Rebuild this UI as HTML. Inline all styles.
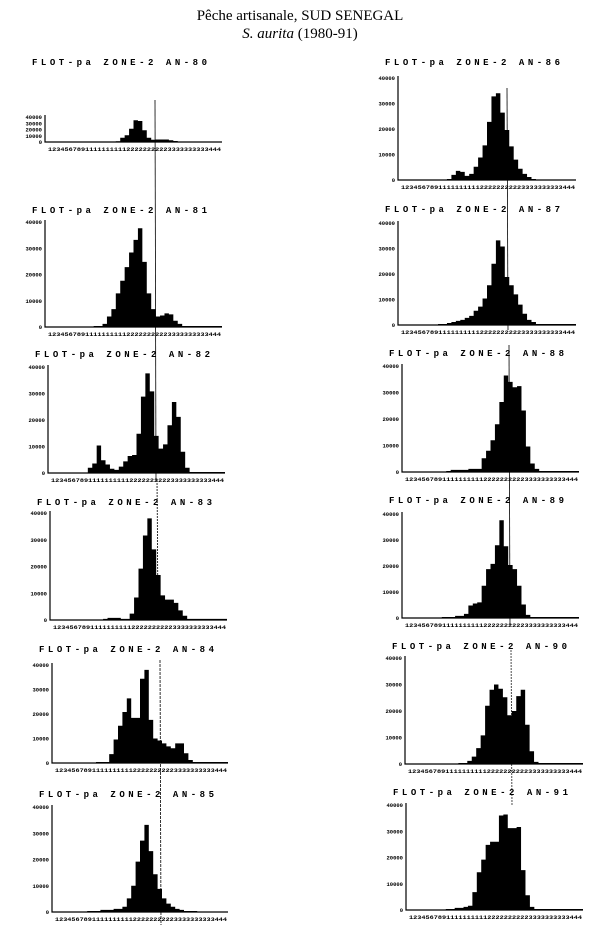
<!DOCTYPE html>
<html><head><meta charset="utf-8">
<style>
html,body{margin:0;padding:0;background:#fff;}
svg{display:block;}
.t{font-family:"Liberation Serif",serif;font-size:15px;fill:#000;}
.pt{font-family:"Liberation Mono",monospace;font-size:9px;font-weight:bold;fill:#000;}
.tk{font-family:"Liberation Mono",monospace;font-size:5.5px;font-weight:bold;fill:#000;}
</style></head>
<body>
<svg id="fig" width="600" height="940" viewBox="0 0 600 940">
<text class="t" x="300" y="20" text-anchor="middle">Pêche artisanale, SUD SENEGAL</text>
<text class="t" x="300" y="38" text-anchor="middle"><tspan font-style="italic">S. aurita</tspan> (1980-91)</text>
<line x1="155" y1="100" x2="156" y2="480" stroke="#000" stroke-width="0.8"/>
<line x1="157" y1="480" x2="158" y2="610" stroke="#000" stroke-width="0.8" stroke-dasharray="2,1"/>
<line x1="160" y1="660" x2="161" y2="925" stroke="#000" stroke-width="0.8" stroke-dasharray="3,1"/>
<line x1="507" y1="88" x2="508" y2="330" stroke="#000" stroke-width="0.8"/>
<line x1="509" y1="345" x2="510" y2="625" stroke="#000" stroke-width="0.8"/>
<line x1="511" y1="650" x2="512" y2="805" stroke="#000" stroke-width="0.7" stroke-dasharray="2,1"/>
</svg>
<script>
const years = ["80","81","82","83","84","85","86","87","88","89","90","91"];
const an80 = [0,0,0,0,0,0,0,0,0,0,2,2,2,2,2,2,3,17,27,53,87,84,47,17,9,10,10,10,7,4,1,1,0,0,0,0,0,0,0,0];
const an81 = [0,0,0,0,0,0,0,0,0,0,0,1,1,3,10,17,32,44,57,71,83,94,62,32,17,10,11,13,12,6,3,1,1,1,1,1,1,1,1,1];
const an82 = [0,0,0,0,0,0,0,0,0,5,9,26,12,8,4,3,6,11,16,17,37,72,94,77,35,23,27,45,67,53,20,5,1,1,1,1,1,1,1,1];
const an83 = [0,0,0,0,0,0,0,0,0,0,0,0,1,2,2,2,1,1,6,21,48,79,95,66,42,23,19,19,16,9,4,1,1,1,1,1,1,1,1,1];
const an84 = [0,0,0,0,0,0,0,0,0,0,1,1,1,9,24,38,52,66,46,46,86,95,44,25,23,20,17,15,20,20,10,3,1,1,1,1,1,1,1,1];
const an85 = [0,0,0,0,0,0,0,0,1,1,1,2,2,2,3,3,5,13,25,48,68,83,58,36,22,13,8,5,3,2,1,1,1,0,0,0,0,0,0,0];
const an86 = [0,0,0,0,0,0,0,0,0,0,0,1,5,9,8,4,6,13,22,34,57,82,85,66,49,33,20,11,6,3,1,0,0,0,0,0,0,0,0,0];
const an87 = [0,0,0,0,0,0,0,0,0,1,1,2,3,4,5,7,9,14,18,26,39,60,83,77,47,39,30,20,11,5,3,1,1,1,1,1,1,1,1,1];
const an88 = [0,0,0,0,0,0,0,0,0,0,1,2,2,2,2,3,3,3,13,20,30,45,66,91,85,80,81,58,24,8,3,1,1,1,1,1,1,1,1,1];
const an89 = [0,0,0,0,0,0,0,0,0,1,1,1,2,2,4,12,14,15,31,47,52,70,94,69,51,47,31,13,3,1,1,1,1,1,1,1,1,1,1,1];
const an90 = [0,0,0,0,0,0,0,0,0,0,0,0,1,1,3,7,15,27,55,70,75,71,63,46,50,64,70,37,12,2,1,1,1,1,1,1,1,1,1,1];
const an91 = [0,0,0,0,0,0,0,0,0,1,1,2,2,3,4,17,36,48,62,65,65,90,91,78,78,79,38,14,3,1,1,1,1,1,1,1,1,1,1,1];
const yTickLabels = ["0","10000","20000","30000","40000"];
const binLabels = "123456789111111111122222222223333333333444".split("");

const series = [an80,an81,an82,an83,an84,an85,an86,an87,an88,an89,an90,an91];
const geom = [
 [45,222,117,142,65],[45,222,222,327,213],[48,225,367,473,357],[50,227,513,620,505],[52,228,665,763,652],[52,228,807,912,797],
 [398,576,78,180,65],[398,576,223,325,212],[402,579,366,472,356],[402,579,514,618,503],[405,583,658,764,649],[406,583,805,910,795]
];
const NS="http://www.w3.org/2000/svg";
const svg=document.getElementById('fig');
function mk(tag,attrs){const e=document.createElementNS(NS,tag);for(const k in attrs)e.setAttribute(k,attrs[k]);return e;}
series.forEach((vals,p)=>{
  const [x0,x1,top,base,ty]=geom[p];
  const n=vals.length;
  const xScale=i=>x0+(x1-x0)*i/n;
  const yScale=v=>base-(base-top)*v/100;
  const g=mk('g',{});
  
  
  svg.appendChild(g);
  const title=mk('text',{x:x0-13,y:ty,class:'pt',textLength:175,lengthAdjust:'spacing'});
  
  
  title.textContent='FLOT-pa ZONE-2 AN-'+years[p];
  g.appendChild(title);
  let d='M'+xScale(0)+','+base;
  vals.forEach((v,i)=>{d+=' L'+xScale(i)+','+yScale(v)+' L'+xScale(i+1)+','+yScale(v);});
  d+=' L'+xScale(n)+','+base+' Z';
  const bars=mk('path',{d:d,fill:'#000'});
  
  
  g.appendChild(bars);
  const ax=mk('path',{d:'M'+x0+','+(top-2)+' L'+x0+','+base+' L'+x1+','+base,stroke:'#000','stroke-width':1.2,fill:'none'});
  
  
  g.appendChild(ax);
  yTickLabels.forEach((lab,i)=>{
    const yy=yScale(i*25);
    if(yy<top-1)return;
    const t=mk('text',{x:x0-3,y:yy+2,class:'tk','text-anchor':'end'});
    
    
    t.textContent=lab;
    g.appendChild(t);
  });
  const xt=mk('text',{x:x0+3,y:base+9,class:'tk',textLength:(x1-x0-4),lengthAdjust:'spacingAndGlyphs'});
  
  
  xt.textContent=binLabels.join('');
  g.appendChild(xt);
});
</script>
</body></html>
